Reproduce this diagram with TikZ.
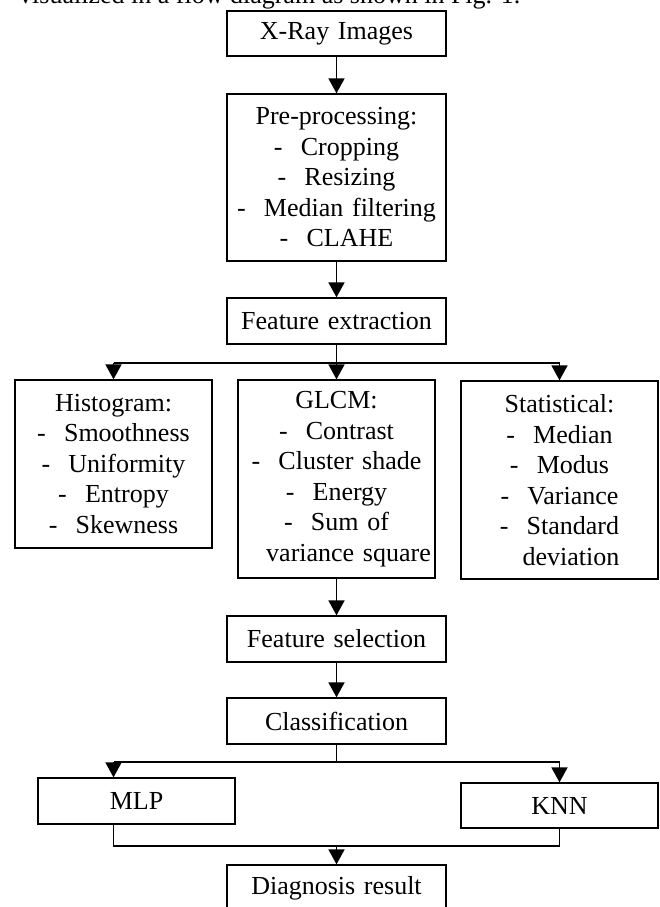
\documentclass[tikz,border=0pt]{standalone}
\usepackage{fontspec}
\setmainfont{Liberation Serif}
\usepackage{tikz}
\usetikzlibrary{arrows.meta}

\begin{document}
\begin{tikzpicture}[x = 1pt,
                    y = -1pt,
                    font = {\fontsize{26}{30.5}\selectfont}]

  \useasboundingbox (0, 0) rectangle (659, 907);
  \clip (0, 0) rectangle (659, 907);


  % EDGES STYLE
  \definecolor{edgecolor_fc}{rgb}{ 0,0,0 }
  \tikzstyle{boxstyle_fc} = [draw=edgecolor_fc, line width=1.3 pt, inner sep=0pt, align=center, text width=196pt, minimum width=197pt]
  \tikzstyle{wideboxstyle_fc} = [boxstyle_fc, text width=218pt, minimum width=219pt]
  \tikzstyle{linestyle_fc} = [draw=edgecolor_fc, line width=1.8 pt, line join=miter]
  \tikzstyle{arrowstyle_fc} = [linestyle_fc, -{Triangle[length=15pt, width=16pt]}]


  % TEXT ABOVE
  \node[anchor=base west, inner sep=0pt] (prev_text) at (19, 4) {visualized in a flow diagram as shown in Fig. 1.};


  % BOXES
  \node[wideboxstyle_fc, minimum height=45pt] (xray) at (336.5, 33.5) {X-Ray Images};
  \node[wideboxstyle_fc, minimum height=167pt] (preproc) at (336.5, 177.5)
    {Pre-processing:\\ -\hspace{0.7em}Cropping\\ -\hspace{0.7em}Resizing\\ -\hspace{0.7em}Median filtering\\ -\hspace{0.7em}CLAHE};
  \node[wideboxstyle_fc, minimum height=46pt] (fe) at (336.5, 321) {Feature extraction};

  \node[boxstyle_fc, minimum height=168pt] (hist) at (113.5, 464)
    {Histogram:\\ -\hspace{0.7em}Smoothness\\ -\hspace{0.7em}Uniformity\\ -\hspace{0.7em}Entropy\\ -\hspace{0.7em}Skewness};
  \node[boxstyle_fc, minimum height=198pt] (glcm) at (336.5, 479)
    {GLCM:\\ -\hspace{0.7em}Contrast\\ -\hspace{0.7em}Cluster shade\\ -\hspace{0.7em}Energy\\ -\hspace{0.7em}Sum of\\ \hspace*{24pt}variance square};
  \node[boxstyle_fc, minimum height=198pt] (stat) at (559.5, 480)
    {Statistical:\\ -\hspace{0.7em}Median\\ -\hspace{0.7em}Modus\\ -\hspace{0.7em}Variance\\ -\hspace{0.7em}Standard\\ \hspace*{23pt}deviation};

  \node[wideboxstyle_fc, minimum height=46pt] (fs) at (336.5, 639) {Feature selection};
  \node[wideboxstyle_fc, minimum height=46pt] (class) at (336.5, 721) {Classification};

  \node[boxstyle_fc, minimum height=46pt] (mlp) at (136.5, 801) {MLP};
  \node[boxstyle_fc, minimum height=45pt] (knn) at (559.5, 805.5) {KNN};

  \node[wideboxstyle_fc, minimum height=46pt] (diag) at (336.5, 888) {Diagnosis result};


  % DEF POINTS
  \coordinate (split_a) at (336.5, 363);
  \coordinate (split_a_l) at (113.5, 363);
  \coordinate (split_a_r) at (559.5, 363);
  \coordinate (split_b) at (336.5, 762);
  \coordinate (split_b_l) at (113.5, 762);
  \coordinate (split_b_r) at (559.5, 762);
  \coordinate (join_l) at (113.5, 846);
  \coordinate (join_c) at (336.5, 846);
  \coordinate (join_r) at (559.5, 846);


  % CONNECTORS
  \draw[arrowstyle_fc] (xray) -- (preproc);
  \draw[arrowstyle_fc] (preproc) -- (fe);

  \draw[linestyle_fc] (fe) -- (split_a);
  \draw[linestyle_fc] (split_a_l) -- (split_a_r);
  \draw[arrowstyle_fc] (split_a_l) -- (hist);
  \draw[arrowstyle_fc] (split_a) -- (glcm);
  \draw[arrowstyle_fc] (split_a_r) -- (stat);

  \draw[arrowstyle_fc] (glcm) -- (fs);
  \draw[arrowstyle_fc] (fs) -- (class);

  \draw[linestyle_fc] (class) -- (split_b);
  \draw[linestyle_fc] (split_b_l) -- (split_b_r);
  \draw[arrowstyle_fc] (split_b_l) -- (split_b_l |- mlp.north);
  \draw[arrowstyle_fc] (split_b_r) -- (knn);

  \draw[linestyle_fc] (split_b_l |- mlp.south) -- (join_l) -- (join_r) -- (knn);
  \draw[arrowstyle_fc] (join_c) -- (diag);

\end{tikzpicture}
\end{document}
